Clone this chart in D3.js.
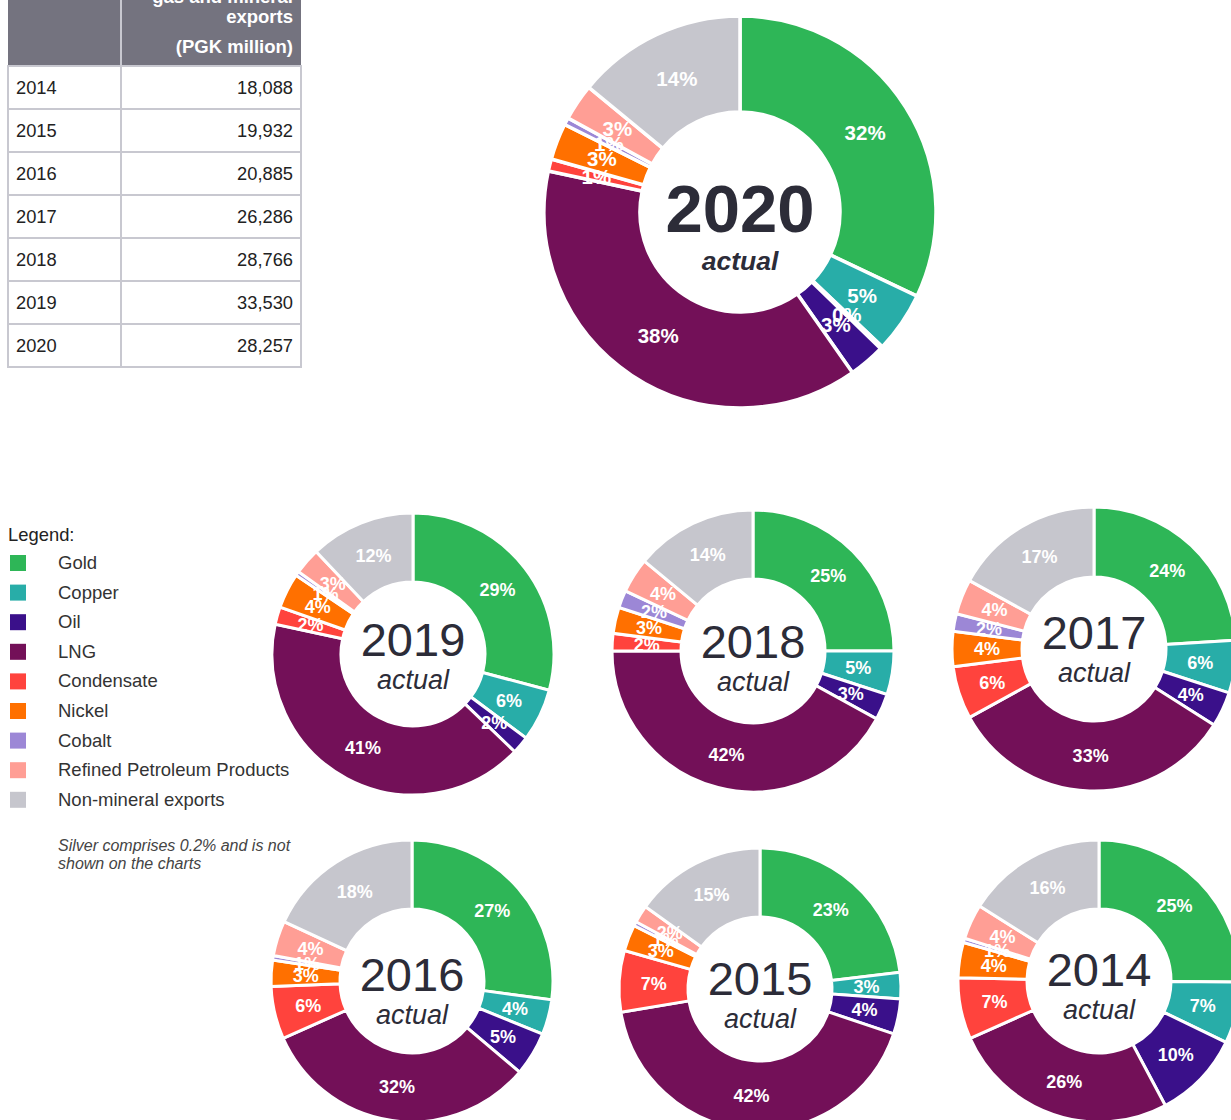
<!DOCTYPE html>
<html>
<head>
<meta charset="utf-8">
<script src="https://cdn.jsdelivr.net/npm/d3@7"></script>
<style>
  html, body { margin: 0; padding: 0; background: #fff; }
  svg { display: block; font-family: "Liberation Sans", Arial, sans-serif; }
</style>
</head>
<body>
<svg id="chart" width="1231" height="1120"></svg>
<script>
// ---------- DATA ----------
const categories = ["Gold", "Copper", "Silver", "Oil", "LNG", "Condensate", "Nickel", "Cobalt", "Refined Petroleum Products", "Non-mineral exports"];
const legendCategories = ["Gold", "Copper", "Oil", "LNG", "Condensate", "Nickel", "Cobalt", "Refined Petroleum Products", "Non-mineral exports"];
const categoryColors = ["#2eb657", "#28ada8", "#b0b0b8", "#3a108a", "#731058", "#ff433d", "#ff7000", "#9c87d6", "#ff9e95", "#c6c6cd"];

// shares (%) in category order
const values2020 = [32, 5, 0.2, 3, 38, 1, 3, 0.6, 3, 14];
const values2019 = [29, 6, 0, 2, 41, 2, 4, 0.5, 3, 12];
const values2018 = [25, 5, 0, 3, 42, 2, 3, 2, 4, 14];
const values2017 = [24, 6, 0, 4, 33, 6, 4, 2, 4, 17];
const values2016 = [27, 4, 0, 5, 32, 6, 3, 0.5, 4, 18];
const values2015 = [23, 3, 0, 4, 42, 7, 3, 0.5, 2, 15];
const values2014 = [25, 7, 0, 10, 26, 7, 4, 0.5, 4, 16];

const tableYears = ["2014", "2015", "2016", "2017", "2018", "2019", "2020"];
const tableValues = ["18,088", "19,932", "20,885", "26,286", "28,766", "33,530", "28,257"];
const tableHeader = ["gas and mineral", "exports", "(PGK million)"];

const legendTitle = "Legend:";
const noteLines = ["Silver comprises 0.2% and is not", "shown on the charts"];

// ---------- LAYOUT ----------
const svg = d3.select("#chart");

const charts = [
  { year: "2020", values: values2020, cx: 740, cy: 212, r: 196, ri: 100, big: true },
  { year: "2019", values: values2019, cx: 413, cy: 654, r: 141, ri: 72, ty: 2 },
  { year: "2018", values: values2018, cx: 753, cy: 651, r: 141, ri: 72, ty: 7 },
  { year: "2017", values: values2017, cx: 1094, cy: 649, r: 142, ri: 72, ty: 0 },
  { year: "2016", values: values2016, cx: 412, cy: 981, r: 141, ri: 72, ty: 10 },
  { year: "2015", values: values2015, cx: 760, cy: 989, r: 141, ri: 72, ty: 6 },
  { year: "2014", values: values2014, cx: 1099, cy: 981, r: 141, ri: 72, ty: 5 }
];

const color = d3.scaleOrdinal().domain(categories).range(categoryColors);
const pie = d3.pie().sort(null).value(d => d.v);

charts.forEach(c => {
  const data = categories.map((k, i) => ({ k, v: c.values[i] })).filter(d => d.v > 0);
  const total = d3.sum(data, d => d.v);
  const arcs = pie(data);
  const arc = d3.arc().innerRadius(c.ri).outerRadius(c.r);
  const labelArc = d3.arc().innerRadius((c.ri + c.r) / 2).outerRadius((c.ri + c.r) / 2);
  const g = svg.append("g").attr("transform", `translate(${c.cx},${c.cy})`);

  g.selectAll("path.slice").data(arcs).join("path")
    .attr("class", "slice")
    .attr("d", arc)
    .attr("fill", d => color(d.data.k))
    .attr("stroke", "#fff")
    .attr("stroke-width", c.big ? 3.5 : 3);

  g.selectAll("text.lbl").data(arcs).join("text")
    .attr("class", "lbl")
    .attr("transform", d => `translate(${labelArc.centroid(d)})`)
    .attr("text-anchor", "middle")
    .attr("dy", "0.36em")
    .attr("fill", "#fff")
    .attr("font-weight", "bold")
    .attr("font-size", c.big ? 20.5 : 18)
    .text(d => Math.round(d.data.v / total * 100) + "%");

  if (c.big) {
    g.append("text").attr("text-anchor", "middle").attr("y", 20)
      .attr("font-size", 67).attr("font-weight", "bold").attr("fill", "#2c2c38")
      .text(c.year);
    g.append("text").attr("text-anchor", "middle").attr("y", 58)
      .attr("font-size", 26.5).attr("font-weight", "bold").attr("font-style", "italic").attr("fill", "#2c2c38")
      .text("actual");
  } else {
    g.append("text").attr("text-anchor", "middle").attr("y", c.ty)
      .attr("font-size", 47).attr("fill", "#2c2c38")
      .text(c.year);
    g.append("text").attr("text-anchor", "middle").attr("y", c.ty + 33)
      .attr("font-size", 27).attr("font-style", "italic").attr("fill", "#2c2c38")
      .text("actual");
  }
});

// ---------- TABLE ----------
const tX = 8, tW1 = 113, tW2 = 180, headerBottom = 66, rowH = 43;
const tg = svg.append("g");
tg.append("rect").attr("x", tX).attr("y", -10).attr("width", tW1 + tW2).attr("height", headerBottom + 10)
  .attr("fill", "#74737f");
tg.append("line").attr("x1", tX + tW1).attr("x2", tX + tW1).attr("y1", -10).attr("y2", headerBottom)
  .attr("stroke", "#c8c8d0").attr("stroke-width", 2);
tg.selectAll("text.hdr").data(tableHeader).join("text")
  .attr("class", "hdr")
  .attr("x", tX + tW1 + tW2 - 8)
  .attr("y", (d, i) => [3, 23, 53][i])
  .attr("text-anchor", "end").attr("fill", "#fff").attr("font-weight", "bold").attr("font-size", 18.5)
  .text(d => d);

const rows = tg.selectAll("g.row").data(tableYears).join("g")
  .attr("class", "row")
  .attr("transform", (d, i) => `translate(${tX},${headerBottom + i * rowH})`);
rows.append("rect").attr("width", tW1).attr("height", rowH).attr("fill", "#fff")
  .attr("stroke", "#c8c8d0").attr("stroke-width", 2);
rows.append("rect").attr("x", tW1).attr("width", tW2).attr("height", rowH).attr("fill", "#fff")
  .attr("stroke", "#c8c8d0").attr("stroke-width", 2);
rows.append("text").attr("x", 8).attr("y", rowH / 2 + 6).attr("font-size", 18.3).attr("fill", "#222")
  .text(d => d);
rows.append("text").attr("x", tW1 + tW2 - 8).attr("y", rowH / 2 + 6).attr("text-anchor", "end")
  .attr("font-size", 18.3).attr("fill", "#222")
  .text((d, i) => tableValues[i]);

// ---------- LEGEND ----------
const lg = svg.append("g");
lg.append("text").attr("x", 8).attr("y", 541).attr("font-size", 18.4).attr("fill", "#222").text(legendTitle);
const items = lg.selectAll("g.item").data(legendCategories).join("g")
  .attr("class", "item")
  .attr("transform", (d, i) => `translate(10,${563 + i * 29.6})`);
items.append("rect").attr("x", 0).attr("y", -8).attr("width", 16).attr("height", 16)
  .attr("fill", d => color(d));
items.append("text").attr("x", 48).attr("y", 6).attr("font-size", 18.5).attr("fill", "#333")
  .text(d => d);

lg.selectAll("text.note").data(noteLines).join("text")
  .attr("class", "note")
  .attr("x", 58).attr("y", (d, i) => 851 + i * 18)
  .attr("font-size", 16).attr("font-style", "italic").attr("fill", "#444")
  .text(d => d);
</script>
</body>
</html>
